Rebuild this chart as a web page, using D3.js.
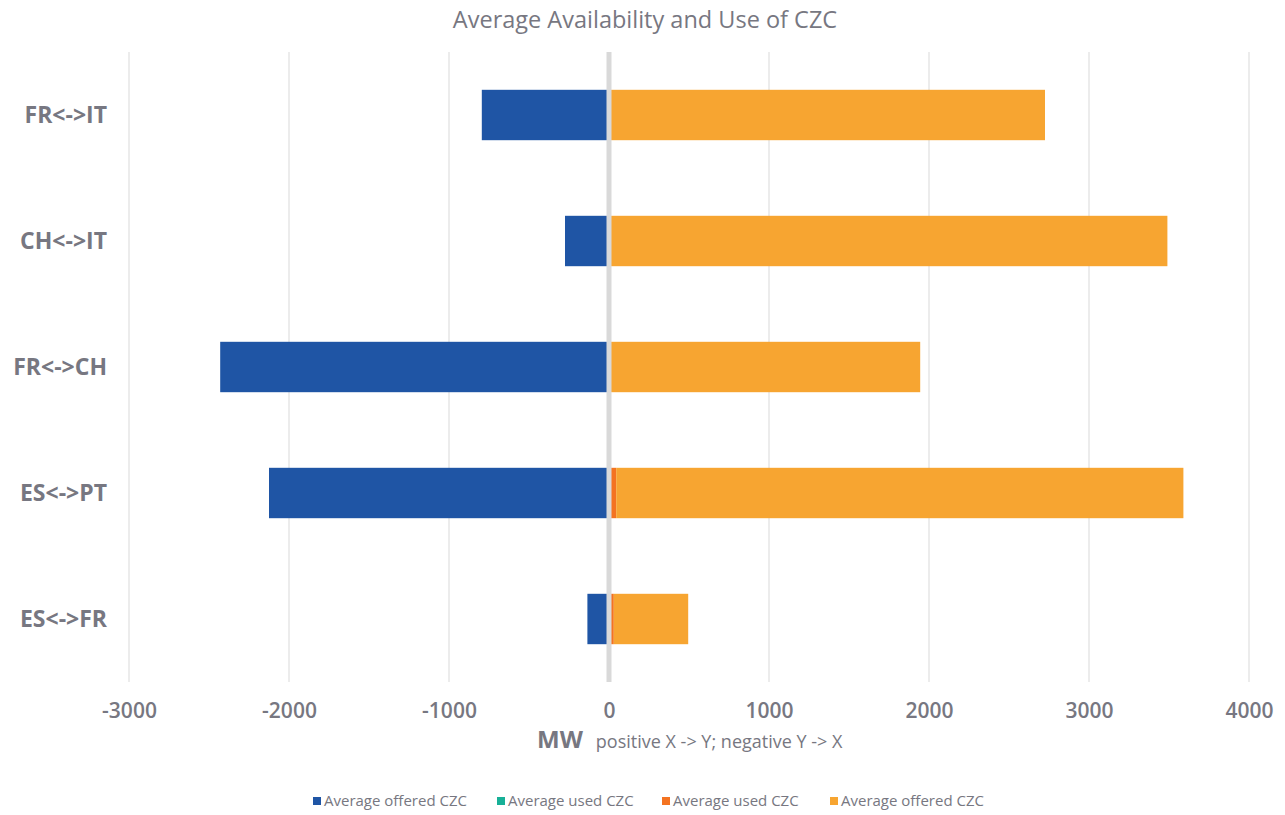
<!DOCTYPE html>
<html>
<head>
<meta charset="utf-8">
<script src="https://cdn.jsdelivr.net/npm/d3@7"></script>
<style>
  html, body { margin: 0; padding: 0; background: #ffffff; }
  svg { display: block; }
  text { font-family: "Open Sans", "DejaVu Sans", sans-serif; }
</style>
</head>
<body>
<svg id="chart" width="1285" height="815"></svg>
<script>
// Border pairs, top to bottom
const categories = ["FR<->IT", "CH<->IT", "FR<->CH", "ES<->PT", "ES<->FR"];
// MW, direction Y -> X (negative) and X -> Y (positive)
const offeredNeg = [-795, -275, -2430, -2125, -135];
const usedNeg    = [0, 0, 0, 0, 0];
const usedPos    = [0, 0, 0, 45, 30];
const offeredPos = [2725, 3490, 1945, 3545, 465];
const xTicks = [-3000, -2000, -1000, 0, 1000, 2000, 3000, 4000];

const seriesNames = ["Average offered CZC", "Average used CZC", "Average used CZC", "Average offered CZC"];
const seriesColors = ["#1f55a5", "#17b097", "#f47321", "#f7a531"];
const seriesKeys = ["offeredNeg", "usedNeg", "usedPos", "offeredPos"];

const rows = categories.map((c, i) => ({
  cat: c,
  offeredNeg: offeredNeg[i],
  usedNeg: usedNeg[i],
  usedPos: usedPos[i],
  offeredPos: offeredPos[i]
}));

const svg = d3.select("#chart");
const margin = { left: 129, right: 36, top: 52, bottom: 133 };
const W = 1285, H = 815;
const textColor = "#777781";

const x = d3.scaleLinear().domain([-3000, 4000]).range([margin.left, W - margin.right]);
const y = d3.scaleBand().domain(categories).range([margin.top, H - margin.bottom]).paddingInner(0.6).paddingOuter(0.3);

// Title
svg.append("text")
  .attr("x", 645).attr("y", 28)
  .attr("text-anchor", "middle")
  .attr("fill", textColor)
  .attr("font-size", 23.5)
  .text("Average Availability and Use of CZC");

// Vertical gridlines
svg.append("g")
  .selectAll("line")
  .data(xTicks.filter(d => d !== 0))
  .join("line")
  .attr("x1", d => x(d)).attr("x2", d => x(d))
  .attr("y1", margin.top).attr("y2", H - margin.bottom)
  .attr("stroke", "#d9d9d9").attr("stroke-width", 1);

// Stacked bars diverging from zero
const stack = d3.stack().keys(seriesKeys).offset(d3.stackOffsetDiverging);
const stacked = stack(rows);

svg.append("g")
  .selectAll("g")
  .data(stacked)
  .join("g")
  .attr("fill", (d, i) => seriesColors[i])
  .selectAll("rect")
  .data(d => d)
  .join("rect")
  .attr("x", d => x(Math.min(d[0], d[1])))
  .attr("width", d => Math.abs(x(d[1]) - x(d[0])))
  .attr("y", d => y(d.data.cat))
  .attr("height", y.bandwidth());

// Zero axis
svg.append("line")
  .attr("x1", x(0)).attr("x2", x(0))
  .attr("y1", margin.top).attr("y2", H - margin.bottom)
  .attr("stroke", "#d9d9d9").attr("stroke-width", 5);

// Category labels
svg.append("g")
  .selectAll("text")
  .data(categories)
  .join("text")
  .attr("x", 107)
  .attr("y", d => y(d) + y.bandwidth() / 2)
  .attr("dy", "0.35em")
  .attr("text-anchor", "end")
  .attr("fill", textColor)
  .attr("font-size", 23)
  .attr("font-weight", "bold")
  .text(d => d);

// X axis tick labels
const xAxis = d3.axisBottom(x).tickValues(xTicks).tickSize(0).tickPadding(0).tickFormat(d => String(d));
const gx = svg.append("g").attr("transform", `translate(0,${H - margin.bottom})`).call(xAxis);
gx.select(".domain").remove();
gx.selectAll("text")
  .attr("y", 36)
  .attr("dy", 0)
  .attr("fill", textColor)
  .attr("font-size", 21)
  .attr("font-weight", 600)
  .attr("font-family", "'Open Sans', sans-serif");

// Axis title
const axTitle = svg.append("text")
  .attr("x", 537).attr("y", 748)
  .attr("fill", textColor);
axTitle.append("tspan").attr("font-size", 24).attr("font-weight", "bold").text("MW");
axTitle.append("tspan").attr("dx", 13).attr("font-size", 18).text("positive X -> Y; negative Y -> X");

// Legend
const legendX = [313, 497, 662, 830];
const legend = svg.append("g")
  .selectAll("g")
  .data(seriesNames)
  .join("g")
  .attr("transform", (d, i) => `translate(${legendX[i]},0)`);
legend.append("rect")
  .attr("x", 0).attr("y", 797).attr("width", 8).attr("height", 8)
  .attr("fill", (d, i) => seriesColors[i]);
legend.append("text")
  .attr("x", 11).attr("y", 806)
  .attr("fill", textColor)
  .attr("font-size", 15)
  .text(d => d);
</script>
</body>
</html>
